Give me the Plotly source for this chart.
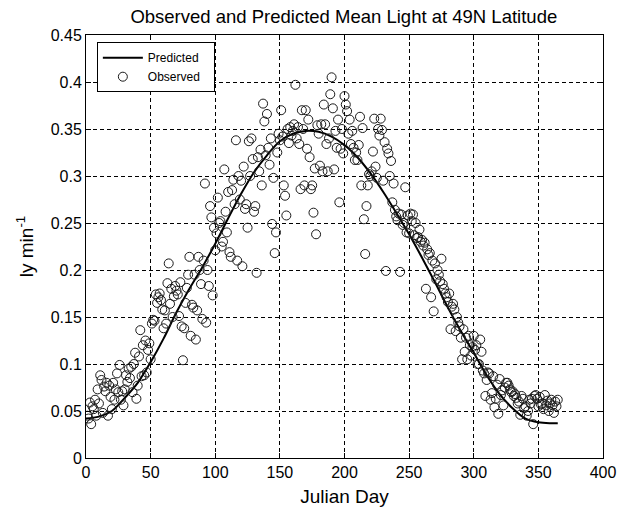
import plotly.graph_objects as go

# Predicted curve (read every 10 days)
pred_day = [0, 10, 20, 30, 40, 50, 60, 70, 80, 90, 100, 110, 120, 130, 140, 150, 160, 170, 180,
            190, 200, 210, 220, 230, 240, 250, 260, 270, 280, 290, 300, 310, 320, 330, 340, 350, 360, 365]
pred_val = [0.042, 0.044, 0.050, 0.064, 0.080, 0.102, 0.127, 0.155, 0.180, 0.203, 0.228, 0.255, 0.281,
            0.304, 0.322, 0.337, 0.345, 0.348, 0.347, 0.342, 0.333, 0.320, 0.303, 0.283, 0.261, 0.238,
            0.213, 0.187, 0.160, 0.135, 0.112, 0.088, 0.068, 0.053, 0.042, 0.038, 0.037, 0.037]

# Observed daily mean light, days 1..365
obs_val = [
    0.045, 0.042, 0.059, 0.036, 0.055, 0.052, 0.062, 0.045, 0.073, 0.058,
    0.088, 0.083, 0.048, 0.076, 0.071, 0.080, 0.045, 0.077, 0.065, 0.052,
    0.080, 0.062, 0.073, 0.090, 0.070, 0.099, 0.062, 0.071, 0.056, 0.073,
    0.088, 0.081, 0.095, 0.085, 0.097, 0.070, 0.100, 0.112, 0.063, 0.077,
    0.108, 0.136, 0.087, 0.120, 0.088, 0.125, 0.091, 0.115, 0.122, 0.105,
    0.143, 0.147, 0.146, 0.174, 0.165, 0.171, 0.175, 0.168, 0.158, 0.138,
    0.157, 0.143, 0.186, 0.207, 0.164, 0.180, 0.150, 0.172, 0.183, 0.178,
    0.174, 0.151, 0.187, 0.140, 0.104, 0.138, 0.165, 0.181, 0.195, 0.214,
    0.130, 0.163, 0.160, 0.195, 0.126, 0.157, 0.214, 0.200, 0.185, 0.148,
    0.210, 0.292, 0.144, 0.200, 0.183, 0.268, 0.256, 0.173, 0.245, 0.221,
    0.239, 0.277, 0.250, 0.252, 0.225, 0.230, 0.307, 0.262, 0.240, 0.283,
    0.219, 0.214, 0.285, 0.296, 0.270, 0.338, 0.210, 0.300, 0.275, 0.295,
    0.204, 0.310, 0.265, 0.270, 0.245, 0.337, 0.300, 0.340, 0.318, 0.262,
    0.268, 0.197, 0.320, 0.305, 0.328, 0.290, 0.377, 0.358, 0.322, 0.366,
    0.330, 0.312, 0.340, 0.249, 0.298, 0.218, 0.240, 0.325, 0.345, 0.338,
    0.370, 0.342, 0.290, 0.279, 0.258, 0.350, 0.335, 0.352, 0.343, 0.348,
    0.355, 0.397, 0.340, 0.352, 0.334, 0.286, 0.370, 0.350, 0.290, 0.370,
    0.329, 0.360, 0.320, 0.286, 0.290, 0.261, 0.308, 0.238, 0.354, 0.345,
    0.311, 0.355, 0.305, 0.376, 0.355, 0.334, 0.305, 0.340, 0.387, 0.405,
    0.372, 0.307, 0.348, 0.330, 0.360, 0.272, 0.329, 0.350, 0.324, 0.385,
    0.376, 0.369, 0.345, 0.360, 0.334, 0.348, 0.330, 0.317, 0.325, 0.317,
    0.333, 0.363, 0.290, 0.351, 0.254, 0.217, 0.268, 0.290, 0.302, 0.300,
    0.305, 0.326, 0.361, 0.310, 0.298, 0.350, 0.343, 0.361, 0.349, 0.295,
    0.336, 0.199, 0.329, 0.324, 0.300, 0.316, 0.272, 0.292, 0.264, 0.257,
    0.253, 0.260, 0.198, 0.259, 0.248, 0.250, 0.288, 0.240, 0.258, 0.239,
    0.260, 0.252, 0.259, 0.237, 0.250, 0.234, 0.235, 0.243, 0.230, 0.232,
    0.226, 0.229, 0.180, 0.222, 0.216, 0.218, 0.171, 0.210, 0.156, 0.207,
    0.190, 0.200, 0.195, 0.188, 0.212, 0.185, 0.180, 0.175, 0.171, 0.166,
    0.175, 0.137, 0.161, 0.164, 0.158, 0.135, 0.150, 0.144, 0.140, 0.128,
    0.105, 0.137, 0.113, 0.128, 0.105, 0.130, 0.120, 0.109, 0.118, 0.130,
    0.115, 0.120, 0.100, 0.100, 0.126, 0.113, 0.093, 0.090, 0.066, 0.083,
    0.091, 0.090, 0.062, 0.069, 0.087, 0.054, 0.063, 0.078, 0.047, 0.084,
    0.067, 0.072, 0.056, 0.075, 0.080, 0.080, 0.077, 0.073, 0.070, 0.071,
    0.066, 0.068, 0.064, 0.058, 0.060, 0.046, 0.066, 0.063, 0.053, 0.055,
    0.045, 0.050, 0.062, 0.058, 0.063, 0.036, 0.066, 0.067, 0.063, 0.055,
    0.065, 0.057, 0.058, 0.052, 0.067, 0.056, 0.061, 0.050, 0.058, 0.062,
    0.056, 0.048, 0.060, 0.055, 0.062,
]
obs_day = list(range(1, len(obs_val) + 1))

x_ticks = [0, 50, 100, 150, 200, 250, 300, 350, 400]
y_ticks = [0, 0.05, 0.1, 0.15, 0.2, 0.25, 0.3, 0.35, 0.4, 0.45]
y_tick_text = ["0", "0.05", "0.1", "0.15", "0.2", "0.25", "0.3", "0.35", "0.4", "0.45"]

FONT = "Liberation Sans, Arial, sans-serif"

fig = go.Figure()
fig.add_trace(go.Scatter(
    x=pred_day, y=pred_val, mode="lines", name="Predicted   ",
    line=dict(color="black", width=2, shape="spline"),
))
fig.add_trace(go.Scatter(
    x=obs_day, y=obs_val, mode="markers", name="Observed",
    marker=dict(symbol="circle-open", size=9, color="#1a1a1a", line=dict(width=1)),
))

axis_common = dict(
    showline=True, linecolor="black", linewidth=1, mirror="ticks",
    ticks="inside", ticklen=5, tickcolor="black",
    showgrid=True, gridcolor="black", gridwidth=1, griddash="4px,3px",
    zeroline=False, automargin=False,
    tickfont=dict(size=16, color="black", family=FONT),
)

fig.update_xaxes(range=[0, 400], tickvals=x_ticks,
                 title=dict(text="Julian Day", font=dict(size=19, color="black", family=FONT), standoff=9),
                 **axis_common)
fig.update_yaxes(range=[0, 0.45], tickvals=y_ticks, ticktext=y_tick_text,
                 title=dict(text="ly min<sup>-1</sup>", font=dict(size=19, color="black", family=FONT), standoff=12),
                 **axis_common)

fig.update_layout(
    width=624, height=510,
    margin=dict(l=86, r=21, t=35, b=52),
    paper_bgcolor="white", plot_bgcolor="white",
    font=dict(family=FONT, color="black"),
    title=dict(text="Observed and Predicted Mean Light at 49N Latitude",
               x=0.551, xanchor="center", y=0.968, yanchor="middle",
               font=dict(size=18.5, color="black", family=FONT)),
    showlegend=True,
    legend=dict(x=0.021, y=0.983, xanchor="left", yanchor="top",
                bordercolor="black", borderwidth=1, bgcolor="white",
                font=dict(size=12, color="black", family=FONT),
                itemwidth=40, tracegroupgap=2),
)

fig.write_html("out.html")
